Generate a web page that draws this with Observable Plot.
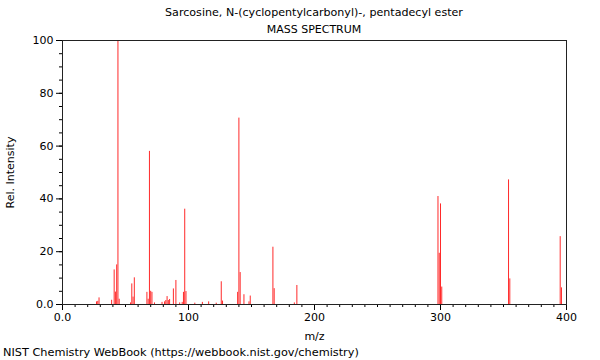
<!DOCTYPE html>
<html>
<head>
<meta charset="utf-8">
<script src="https://cdn.jsdelivr.net/npm/d3@7"></script>
<script src="https://cdn.jsdelivr.net/npm/@observablehq/plot@0.6"></script>
<style>
  html, body { margin: 0; padding: 0; background: white; }
  #wrap { position: relative; width: 600px; height: 360px; font-family: "DejaVu Sans", sans-serif; font-size: 11px; color: black; }
  #chart { position: absolute; left: 0; top: 0; }
  .txt { position: absolute; line-height: 16px; white-space: nowrap; }
  .center { left: 0; width: 628px; text-align: center; }
</style>
</head>
<body>
<div id="wrap">
  <div id="chart"></div>
  <div class="txt center" id="title" style="top:5px; font-size:11.1px"></div>
  <div class="txt center" id="subtitle" style="top:22px"></div>
  <div class="txt" id="caption" style="top:345px; left:3px; font-size:11.3px"></div>
</div>
<script>
const titleText = "Sarcosine, N-(cyclopentylcarbonyl)-, pentadecyl ester";
const subtitleText = "MASS SPECTRUM";
const captionText = "NIST Chemistry WebBook (https://webbook.nist.gov/chemistry)";
const xLabel = "m/z";
const yLabel = "Rel. Intensity";

// peaks
const mz = [27, 28, 29, 39, 41, 42, 43, 44, 45, 54, 55, 56, 57, 67, 68, 69, 70, 71, 73,
  79, 81, 82, 83, 84, 85, 88, 90, 93, 95, 96, 97, 98, 105, 111, 116, 122, 126, 127,
  139, 140, 141, 144, 148, 149, 167, 168, 184, 186, 298, 299, 300, 301, 354, 355, 395, 396];
const intensity = [1.0, 1.2, 2.5, 1.6, 13.1, 4.7, 15.0, 100, 2.0, 0.6, 7.8, 2.8, 10.1, 4.6, 2.0, 58.0, 5.0, 4.6, 0.6,
  0.8, 1.0, 1.5, 3.0, 1.5, 1.9, 5.9, 9.1, 0.6, 0.8, 4.6, 36.1, 4.9, 0.5, 0.8, 1.0, 0.5, 8.6, 1.3,
  4.6, 70.6, 12.1, 3.7, 1.0, 3.2, 21.7, 6.0, 0.6, 7.2, 40.9, 19.4, 38.1, 6.6, 47.2, 9.7, 25.7, 6.3];

const xMajorTicks = [0, 100, 200, 300, 400];
const xMajorLabels = ["0.0", "100", "200", "300", "400"];
const xMinorTicks = [0,10,20,30,40,50,60,70,80,90,100,110,120,130,140,150,160,170,180,190,200,
  210,220,230,240,250,260,270,280,290,300,310,320,330,340,350,360,370,380,390,400];
const yMajorTicks = [0, 20, 40, 60, 80, 100];
const yMajorLabels = ["0.0", "20", "40", "60", "80", "100"];
const yMinorTicks = [0,5,10,15,20,25,30,35,40,45,50,55,60,65,70,75,80,85,90,95,100];

document.getElementById("title").textContent = titleText;
document.getElementById("subtitle").textContent = subtitleText;
document.getElementById("caption").textContent = captionText;

const peaks = mz.map((m, i) => ({mz: m, intensity: intensity[i]}));

const chart = Plot.plot({
  width: 600,
  height: 360,
  marginLeft: 62,
  marginRight: 34,
  marginTop: 40,
  marginBottom: 56,
  style: {fontFamily: "DejaVu Sans, sans-serif", fontSize: "11px", background: "white", color: "black"},
  x: {domain: [0, 400]},
  y: {domain: [0, 100]},
  marks: [
    Plot.axisX(xMinorTicks, {tickSize: 3, tickFormat: () => "", label: null}),
    Plot.axisX(xMajorTicks, {tickSize: 6, tickPadding: 3,
      tickFormat: d => xMajorLabels[xMajorTicks.indexOf(d)],
      label: xLabel, labelAnchor: "center", labelArrow: "none", labelOffset: 35}),
    Plot.axisY(yMinorTicks, {tickSize: 3, tickFormat: () => "", label: null}),
    Plot.axisY(yMajorTicks, {tickSize: 6, tickPadding: 3,
      tickFormat: d => yMajorLabels[yMajorTicks.indexOf(d)],
      label: yLabel, labelAnchor: "center", labelArrow: "none", labelOffset: 56}),
    Plot.ruleX(peaks, {x: "mz", y1: 0, y2: "intensity", stroke: "#ff2a2a", strokeWidth: 1}),
    Plot.frame({stroke: "#222"})
  ]
});
document.getElementById("chart").appendChild(chart);
</script>
</body>
</html>
